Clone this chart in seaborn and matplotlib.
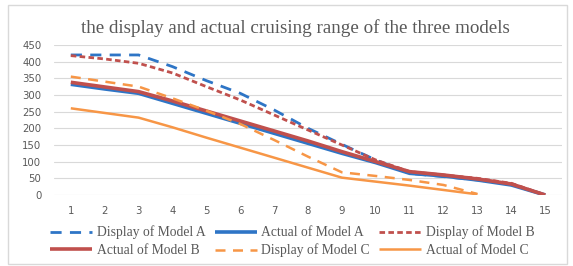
import pandas as pd
import matplotlib.pyplot as plt
from matplotlib.patches import Rectangle
import seaborn as sns

# Data
cycles = list(range(1, 16))
display_a = [420, 420, 420, 385, 343, 305, 255, 200, 152, 105, 65, 55, 45, 33, 0]
actual_a = [332, 318, 305, 275, 245, 215, 185, 155, 125, 97, 65, 57, 45, 30, 0]
display_b = [418, 408, 395, 366, 325, 285, 240, 195, 150, 105, 70, 60, 50, 35, 0]
actual_b = [338, 324, 310, 282, 252, 222, 192, 162, 130, 100, 70, 60, 48, 33, 0]
display_c = [355, 340, 325, 290, 253, 213, 165, 115, 68, 57, 45, 30, 3]
actual_c = [260, 246, 232, 203, 172, 142, 112, 82, 52, 40, 28, 15, 2]

series = {
    "Display of Model A": display_a,
    "Actual of Model A": actual_a,
    "Display of Model B": display_b,
    "Actual of Model B": actual_b,
    "Display of Model C": display_c,
    "Actual of Model C": actual_c,
}

BLUE = "#2E75C6"
RED = "#C0504D"
ORANGE = "#F79646"
styles = {
    "Display of Model A": dict(color=BLUE, lw=2.0, dashes=(4, 3)),
    "Actual of Model A": dict(color=BLUE, lw=2.6, dashes=None),
    "Display of Model B": dict(color=RED, lw=2.0, dashes=(2, 1.2)),
    "Actual of Model B": dict(color=RED, lw=2.6, dashes=None),
    "Display of Model C": dict(color=ORANGE, lw=1.8, dashes=(4, 3)),
    "Actual of Model C": dict(color=ORANGE, lw=1.8, dashes=None),
}

sns.set_style("white")
plt.rcParams["font.family"] = ["DejaVu Sans"]

fig = plt.figure(figsize=(5.73, 2.66), dpi=100)
ax = fig.add_axes([0.094, 0.267, 0.887, 0.564])

# Chart border
fig.patches.append(Rectangle((0.014, 0.008), 0.975, 0.975, transform=fig.transFigure,
                             fill=False, edgecolor="#D9D9D9", lw=1.0))

handles = {}
for name, vals in series.items():
    st = styles[name]
    df = pd.DataFrame({"cycle": cycles[:len(vals)], "range": vals})
    sns.lineplot(data=df, x="cycle", y="range", ax=ax, color=st["color"],
                 lw=st["lw"], label=name, legend=False)
    line = ax.lines[-1]
    if st["dashes"]:
        line.set_dashes(st["dashes"])
    line.set_solid_capstyle("butt")
    handles[name] = line

ax.set_xlim(0.5, 15.5)
ax.set_ylim(0, 450)
ax.set_xticks(cycles)
ax.set_yticks(range(0, 451, 50))
ax.set_xlabel("")
ax.set_ylabel("")
ax.tick_params(axis="both", labelsize=7.3, colors="#595959", length=0, pad=8)
ax.tick_params(axis="y", pad=9)
ax.yaxis.grid(True, color="#D9D9D9", lw=0.8)
ax.set_axisbelow(True)
for sp in ax.spines.values():
    sp.set_visible(False)

fig.text(0.515, 0.895, "the display and actual cruising range of the three models",
         ha="center", va="center", fontsize=13.7, color="#595959",
         family="Liberation Serif")

names = list(series.keys())
order = [0, 3, 1, 4, 2, 5]
fig.legend([handles[names[i]] for i in order], [names[i] for i in order],
           loc="center", bbox_to_anchor=(0.51, 0.092), ncol=3, frameon=False,
           prop={"family": "Liberation Serif", "size": 9.8}, labelcolor="#595959",
           handlelength=3.1, handletextpad=0.3, columnspacing=0.7,
           labelspacing=0.3)

fig.savefig("out.png", dpi=100)
